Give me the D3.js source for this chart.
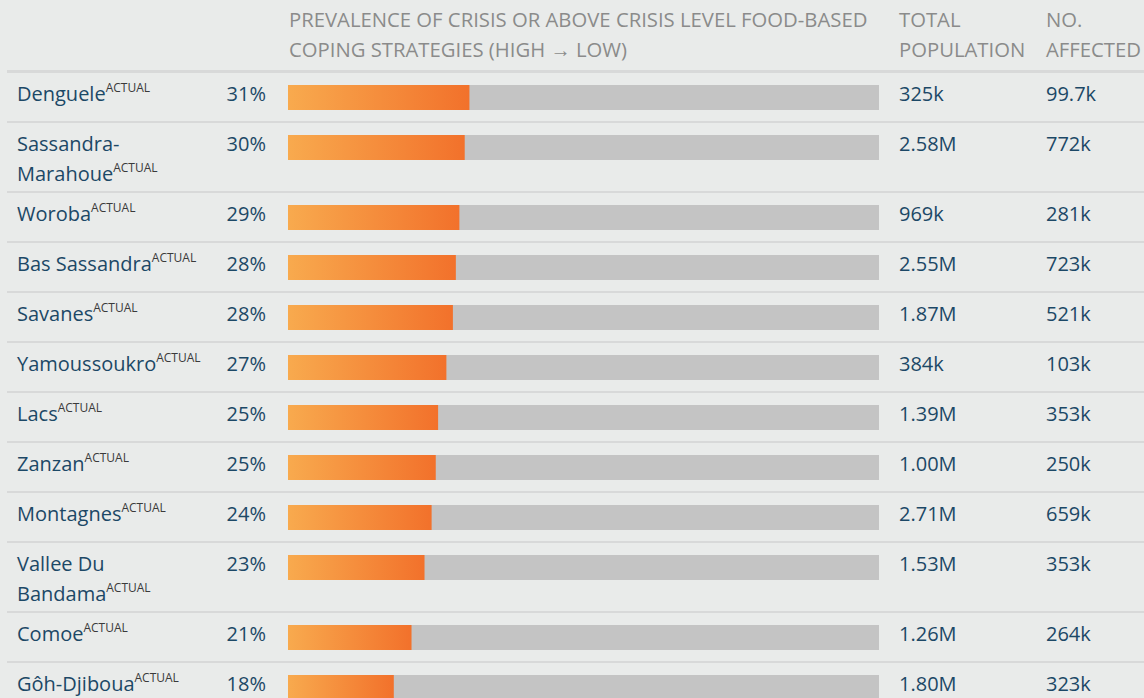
<!DOCTYPE html>
<html>
<head>
<meta charset="utf-8">
<script src="https://cdn.jsdelivr.net/npm/d3@7"></script>
<style>
  html, body { margin: 0; padding: 0; background: #e9ebea; }
  svg { display: block; font-family: "Open Sans", sans-serif; }
</style>
</head>
<body>
<svg id="chart"></svg>
<script>
// data
const regions = ["Denguele", "Sassandra-Marahoue", "Woroba", "Bas Sassandra", "Savanes",
    "Yamoussoukro", "Lacs", "Zanzan", "Montagnes", "Vallee Du Bandama", "Comoe", "Gôh-Djiboua"];
const prevalence = [30.7, 29.9, 29.0, 28.4, 27.9, 26.8, 25.4, 25.0, 24.3, 23.1, 20.9, 17.9];
const totalPopulation = [325000, 2580000, 969000, 2550000, 1870000, 384000, 1390000, 1000000,
    2710000, 1530000, 1260000, 1800000];
const affected = [99700, 772000, 281000, 723000, 521000, 103000, 353000, 250000,
    659000, 353000, 264000, 323000];
const dataType = "ACTUAL";
const barHeader = ["PREVALENCE OF CRISIS OR ABOVE CRISIS LEVEL FOOD-BASED", "COPING STRATEGIES (HIGH \u2192 LOW)"];
const popHeader = ["TOTAL", "POPULATION"];
const affHeader = ["NO.", "AFFECTED"];

const width = 1144;
const height = 698;

const svg = d3.select('#chart').attr('width', width).attr('height', height);

const defs = svg.append('defs');
const grad = defs.append('linearGradient')
    .attr('id', 'barGrad')
    .attr('x1', '0%').attr('x2', '100%').attr('y1', '0%').attr('y2', '0%');
grad.append('stop').attr('offset', '0%').attr('stop-color', '#f8aa4e');
grad.append('stop').attr('offset', '100%').attr('stop-color', '#f2712b');

const x = d3.scaleLinear().domain([0, 100]).range([288, 879]);
const fmtNum = d3.format('.3s');
const fmtPct = d3.format('.0f');

const nameColor = '#1c4866';
const headColor = '#8b8b8b';
const fontSize = 20;
const lineHeight = 30;

// header
function header(lines, xPos) {
    const t = svg.append('text')
        .attr('x', xPos)
        .attr('y', 27)
        .attr('fill', headColor)
        .attr('font-size', 20.3);
    lines.forEach(function (l, i) {
        t.append('tspan').attr('x', xPos).attr('dy', i === 0 ? 0 : lineHeight).text(l);
    });
}
header(barHeader, 289);
header(popHeader, 899);
header(affHeader, 1046);

svg.append('rect')
    .attr('x', 7).attr('y', 70)
    .attr('width', width - 7).attr('height', 3)
    .attr('fill', '#d8d9d9');

// word wrap for the region names (break on spaces and hyphens)
const measure = svg.append('text').attr('font-size', fontSize).attr('visibility', 'hidden');
const measureSup = svg.append('text').attr('font-size', 12).attr('visibility', 'hidden').text(dataType);
const supWidth = measureSup.node().getComputedTextLength();
function textWidth(s) {
    measure.text(s);
    return measure.node().getComputedTextLength();
}
function wrapName(name, maxW) {
    const parts = name.match(/[^\s-]+-?\s*/g);
    const lines = [];
    let cur = '';
    parts.forEach(function (p, i) {
        const isLast = i === parts.length - 1;
        const trial = cur + p;
        const w = textWidth(trial.trim()) + (isLast ? supWidth : 0);
        if (cur !== '' && w > maxW) {
            lines.push(cur.trim());
            cur = p;
        } else {
            cur = trial;
        }
    });
    lines.push(cur.trim());
    return lines;
}

const rows = regions.map(function (r, i) {
    return {
        name: r,
        lines: wrapName(r, 196),
        prevalence: prevalence[i],
        total: totalPopulation[i],
        affected: affected[i]
    };
});
measure.remove();
measureSup.remove();

let yPos = 73;
rows.forEach(function (d) {
    d.top = yPos;
    d.h = 50 + (d.lines.length - 1) * 20;
    yPos += d.h;
});

const rowG = svg.selectAll('g.row')
    .data(rows)
    .enter().append('g')
    .attr('class', 'row')
    .attr('transform', function (d) { return 'translate(0,' + d.top + ')'; });

// separators
rowG.append('rect')
    .attr('x', 7)
    .attr('y', function (d) { return d.h - 2; })
    .attr('width', width - 7)
    .attr('height', 2)
    .attr('fill', '#d8d9d9');

// names
rowG.each(function (d) {
    const g = d3.select(this);
    const t = g.append('text')
        .attr('x', 17)
        .attr('y', 27.5)
        .attr('fill', nameColor)
        .attr('font-size', fontSize);
    d.lines.forEach(function (l, i) {
        t.append('tspan').attr('x', 17).attr('dy', i === 0 ? 0 : lineHeight).text(l);
    });
    t.append('tspan')
        .attr('font-size', 12)
        .attr('fill', '#3a3a3a')
        .attr('dy', -9)
        .text(dataType);
});

// percentage
rowG.append('text')
    .attr('x', 266)
    .attr('y', 27.5)
    .attr('text-anchor', 'end')
    .attr('fill', nameColor)
    .attr('font-size', fontSize)
    .text(function (d) { return fmtPct(d.prevalence) + '%'; });

// bars
rowG.append('rect')
    .attr('x', x(0))
    .attr('y', 12)
    .attr('width', x(100) - x(0))
    .attr('height', 25)
    .attr('fill', '#c4c4c4');

rowG.append('rect')
    .attr('x', x(0))
    .attr('y', 12)
    .attr('width', function (d) { return x(d.prevalence) - x(0); })
    .attr('height', 25)
    .attr('fill', 'url(#barGrad)');

// numbers
rowG.append('text')
    .attr('x', 899)
    .attr('y', 27.5)
    .attr('fill', nameColor)
    .attr('font-size', fontSize)
    .text(function (d) { return fmtNum(d.total); });

rowG.append('text')
    .attr('x', 1046)
    .attr('y', 27.5)
    .attr('fill', nameColor)
    .attr('font-size', fontSize)
    .text(function (d) { return fmtNum(d.affected); });
</script>
</body>
</html>
